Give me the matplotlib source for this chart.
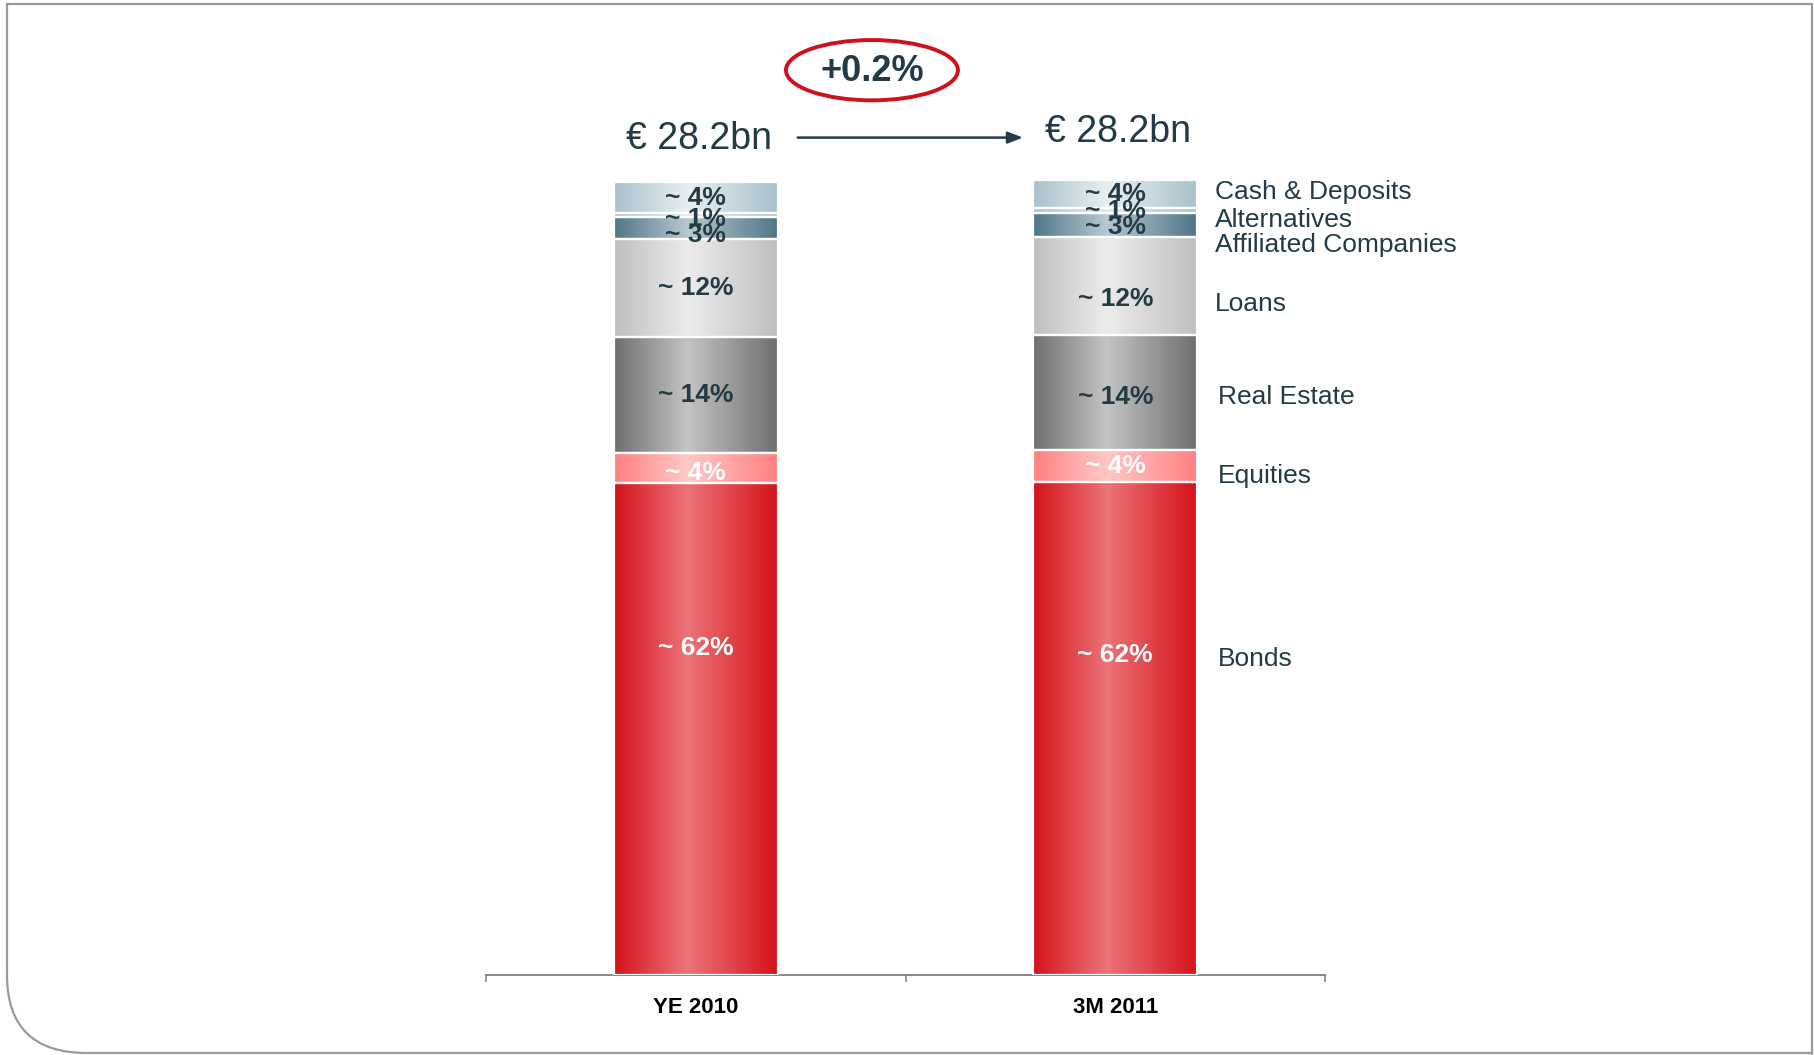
import numpy as np
import matplotlib
matplotlib.use("Agg")
import matplotlib.pyplot as plt
from matplotlib.colors import LinearSegmentedColormap
from matplotlib.path import Path
from matplotlib.patches import PathPatch, Ellipse

# ── data (stacked bottom -> top) ──────────────────────────────────────
periods = ["YE 2010", "3M 2011"]
asset_classes = ["Bonds", "Equities", "Real Estate", "Loans",
                 "Affiliated Companies", "Alternatives", "Cash & Deposits"]
share_ye2010 = [62.0, 3.85, 14.6, 12.35, 2.8, 0.45, 3.95]
share_3m2011 = [62.2, 4.05, 14.4, 12.4, 3.0, 0.7, 3.45]
label_ye2010 = ["~ 62%", "~ 4%", "~ 14%", "~ 12%", "~ 3%", "~ 1%", "~ 4%"]
label_3m2011 = ["~ 62%", "~ 4%", "~ 14%", "~ 12%", "~ 3%", "~ 1%", "~ 4%"]
totals = ["€ 28.2bn", "€ 28.2bn"]
change = "+0.2%"

# ── styles ────────────────────────────────────────────────────────────
edge_cols = ["#d5121a", "#ff8080", "#6f6f6f", "#bfbfbf", "#4f7687", "#a9c2cc", "#a8c1cb"]
mid_cols = ["#ec7478", "#ffc8c8", "#c4c4c4", "#ececec", "#b8c9cf", "#dfe8eb", "#e8eff1"]
lbl_cols = ["white", "white", "#243b45", "#243b45", "#243b45", "#243b45", "#243b45"]
ink = "#243b45"
FONT = ["Liberation Sans", "DejaVu Sans"]
NARROW = ["Liberation Sans Narrow", "Liberation Sans", "DejaVu Sans"]
plt.rcParams["font.family"] = FONT

# pixel nudges (down = positive) to follow the original label placement
nudge_bar = [[-81, 5, 0, 0, 7, 4, 0], [-73, 0, 4, 13, 2, 0, 0]]
nudge_side = [-69, 10.5, 4.5, 18, 20, 9, -2]

W, H = 1815, 1055
fig = plt.figure(figsize=(W / 100, H / 100), dpi=100)
ax = fig.add_axes([486 / W, 80 / H, 839 / W, 955 / H])

bar_w = 0.39
series = [share_ye2010, share_3m2011]
labels = [label_ye2010, label_3m2011]
tops = []
for i, vals in enumerate(series):
    bottoms = np.concatenate([[0], np.cumsum(vals)[:-1]])
    bars = ax.bar([i] * len(vals), vals, bottom=bottoms, width=bar_w,
                  facecolor="none", edgecolor="white", linewidth=1.6, zorder=3)
    for k, p in enumerate(bars):
        x0, y0, w, h = p.get_x(), p.get_y(), p.get_width(), p.get_height()
        cmap = LinearSegmentedColormap.from_list(
            "g", [(0, edge_cols[k]), (0.45, mid_cols[k]), (1, edge_cols[k])])
        ax.imshow(np.linspace(0, 1, 256)[None, :], extent=[x0, x0 + w, y0, y0 + h],
                  aspect="auto", cmap=cmap, interpolation="bilinear", zorder=2)
        ax.annotate(labels[i][k], (i, y0 + h / 2), xytext=(0, -nudge_bar[i][k]),
                    textcoords="offset pixels", ha="center", va="center",
                    fontsize=19, fontweight="bold", color=lbl_cols[k], zorder=4)
        if i == 1:
            ax.annotate(asset_classes[k], (x0 + w, y0 + h / 2),
                        xytext=(18 if k > 2 else 21, -nudge_side[k]),
                        textcoords="offset pixels", ha="left", va="center",
                        fontsize=19, color=ink, annotation_clip=False)
    tops.append(sum(vals))

for i, t in enumerate(totals):
    ax.annotate(t, (i, tops[i]), xytext=(3, 43 if i == 0 else 48),
                textcoords="offset pixels", ha="center", va="center",
                fontsize=27, color=ink, annotation_clip=False)

# growth arrow and circled change
ax.annotate("", xy=(0.78, 105.6), xytext=(0.243, 105.6),
            arrowprops=dict(arrowstyle="-|>,head_length=0.9,head_width=0.35",
                            color=ink, lw=1.8, shrinkA=0, shrinkB=0),
            annotation_clip=False)
ax.add_patch(Ellipse((0.42, 114.1), 0.41, 7.6, facecolor="none",
                     edgecolor="#d0101a", lw=2.8, clip_on=False, zorder=5))
ax.text(0.42, 113.9, change, ha="center", va="center", fontsize=26,
        fontweight="bold", color=ink)

ax.set_xlim(-0.5, 1.5)
ax.set_ylim(0, 955 / 7.93)
for s in ["top", "right", "left"]:
    ax.spines[s].set_visible(False)
ax.spines["bottom"].set_color("#7f7f7f")
ax.spines["bottom"].set_linewidth(1.3)
ax.set_yticks([])
ax.set_xticks([-0.5, 0.5, 1.5])
ax.set_xticklabels([])
ax.tick_params(axis="x", which="major", length=5, width=1.1, color="#7f7f7f", direction="out")
ax.set_xticks([0, 1], minor=True)
ax.set_xticklabels(periods, minor=True, fontsize=16, fontweight="bold",
                   family=NARROW, color="black")
ax.tick_params(axis="x", which="minor", length=0, pad=16)

# slide frame with rounded bottom-left corner
def fx(px, py):
    return (px / W, 1 - py / H)

verts = [fx(1812, 1055), fx(1812, 4), fx(7, 4), fx(7, 975), fx(7, 1053), fx(87, 1053), fx(1812, 1053)]
codes = [Path.MOVETO, Path.LINETO, Path.LINETO, Path.LINETO, Path.CURVE3, Path.CURVE3, Path.LINETO]
fig.patches.append(PathPatch(Path(verts, codes), transform=fig.transFigure,
                             facecolor="none", edgecolor="#9a9a9a", lw=1.6))

fig.savefig("out.png", dpi=100)
